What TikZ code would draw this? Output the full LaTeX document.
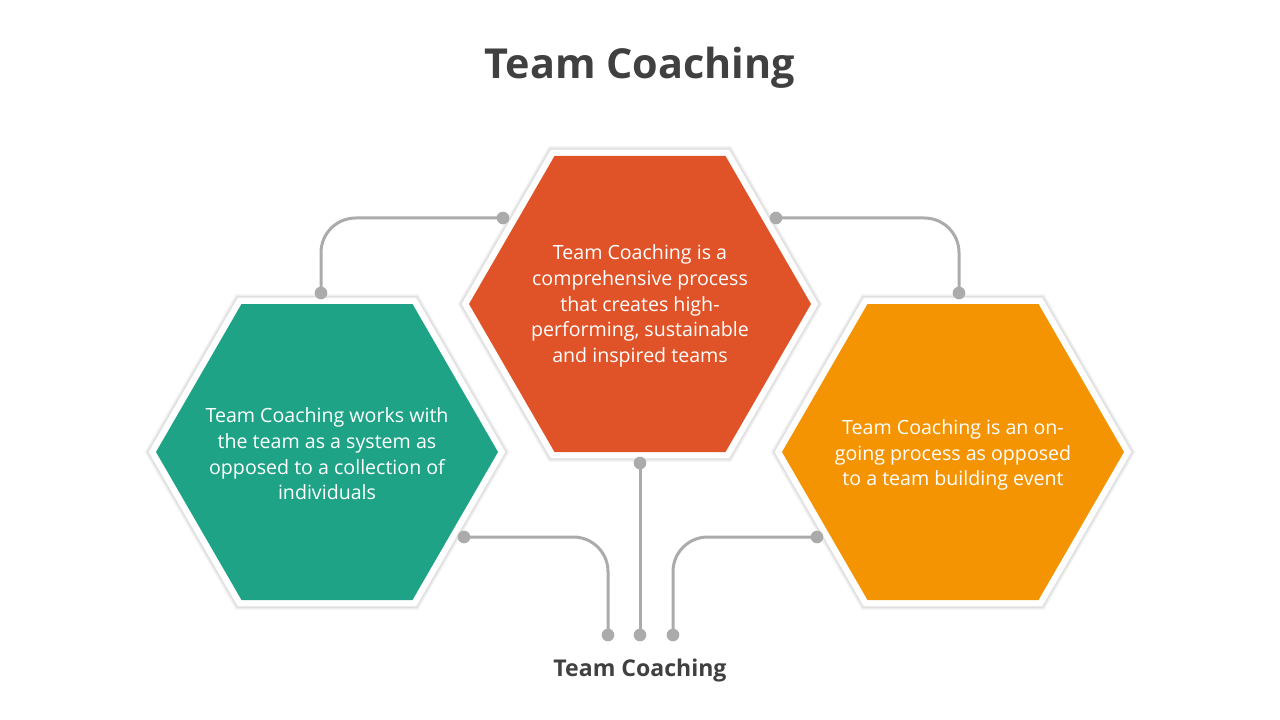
\documentclass[tikz,border=0pt]{standalone}
\usepackage{fontspec}
\setmainfont{Open Sans}
\definecolor{hexred}{HTML}{E05328}
\definecolor{hexgreen}{HTML}{1EA386}
\definecolor{hexorange}{HTML}{F59402}
\definecolor{linegray}{HTML}{ABABAB}
\definecolor{titlegray}{HTML}{404040}
\begin{document}
\begin{tikzpicture}[x=0.75pt,y=-0.75pt,
  hexshape/.style={line join=miter,
    preaction={draw=black!6, line width=14.5pt},
    preaction={draw=black!12, line width=12pt},
    preaction={draw=white, line width=9.5pt}},
  bodytext/.style={text=white, align=center, inner sep=0pt,
    font=\fontsize{14.7}{19.3}\selectfont},
  conn/.style={draw=linegray, line width=2.25pt, rounded corners=26pt},
  dot/.style={circle, fill=linegray, inner sep=0pt, minimum size=9.5pt}]
\useasboundingbox[fill=white] (0,0) rectangle (1280,720);

% hexagons
\path[hexshape, fill=hexred, shift={(640,304)}]
  (-171,0) -- (-85.5,-148) -- (85.5,-148) -- (171,0) -- (85.5,148) -- (-85.5,148) -- cycle;
\path[hexshape, fill=hexgreen, shift={(327,452)}]
  (-171,0) -- (-85.5,-148) -- (85.5,-148) -- (171,0) -- (85.5,148) -- (-85.5,148) -- cycle;
\path[hexshape, fill=hexorange, shift={(953,452)}]
  (-171,0) -- (-85.5,-148) -- (85.5,-148) -- (171,0) -- (85.5,148) -- (-85.5,148) -- cycle;

% texts
\node[font=\bfseries\fontsize{31}{36}\selectfont, text=titlegray] (title) at (640,68) {Team Coaching};
\node[bodytext] (tcenter) at (640,306) {Team Coaching is a\\comprehensive process\\that creates high-\\performing, sustainable\\and inspired teams};
\node[bodytext] (tleft) at (327,454) {Team Coaching works with\\the team as a system as\\opposed to a collection of\\individuals};
\node[bodytext] (tright) at (953,455) {Team Coaching is an on-\\going process as opposed\\to a team building event};
\node[font=\bfseries\fontsize{17.3}{20}\selectfont, text=titlegray] (bottom) at (640,671) {Team Coaching};

% connector end points
\coordinate (a1) at (503,218);
\coordinate (a2) at (321,293);
\coordinate (b1) at (776,218);
\coordinate (b2) at (959,293);
\coordinate (c1) at (640,463);
\coordinate (c2) at (640,635);
\coordinate (l1) at (464,537);
\coordinate (l2) at (608,635);
\coordinate (r1) at (817,537);
\coordinate (r2) at (673,635);

\draw[conn] (a1) -| (a2);
\draw[conn] (b1) -| (b2);
\draw[conn] (c1) -- (c2);
\draw[conn] (l1) -| (l2);
\draw[conn] (r1) -| (r2);

\foreach \p in {a1,a2,b1,b2,c1,c2,l1,l2,r1,r2}
  \node[dot] (dot-\p) at (\p) {};
\end{tikzpicture}
\end{document}
